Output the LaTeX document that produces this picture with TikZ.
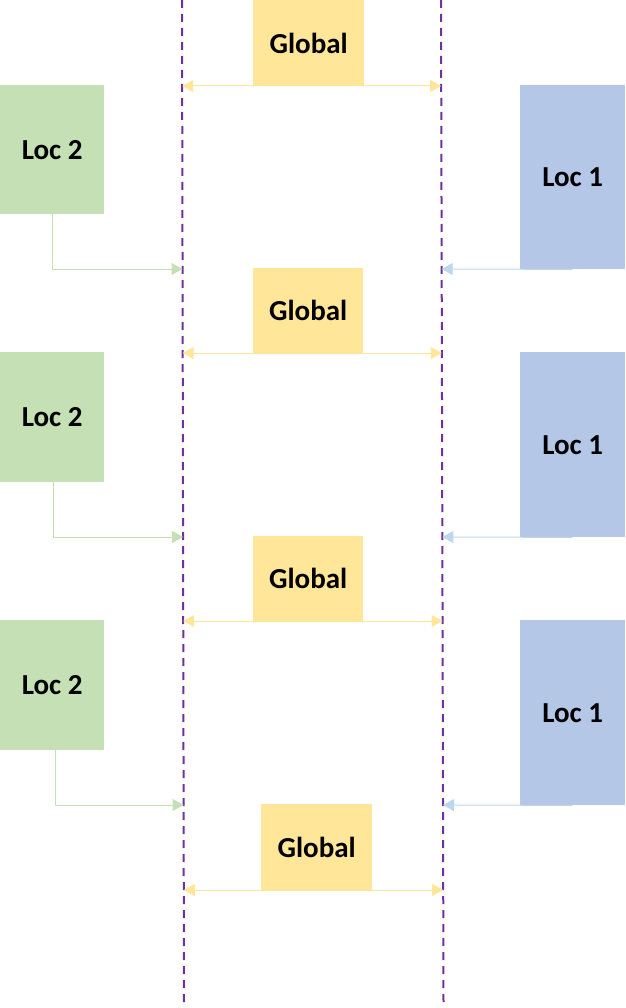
\documentclass[tikz,border=0pt]{standalone}
\usepackage{fontspec}
\setmainfont{Carlito}
\usetikzlibrary{arrows.meta}
\definecolor{gy}{HTML}{FFE699}
\definecolor{gg}{HTML}{C5E0B4}
\definecolor{gb}{HTML}{B4C7E7}
\definecolor{ab}{HTML}{BDD7EE}
\definecolor{pu}{HTML}{7030A0}
\tikzset{
  box/.style={rectangle, draw=none, inner sep=0pt, anchor=north west, font=\fontsize{29}{34}\selectfont\bfseries},
  glob/.style={box, fill=gy},
  loctwo/.style={box, fill=gg},
  locone/.style={box, fill=gb},
  garrow/.style={draw=gy, line width=1pt, {Triangle[length=11pt,width=12pt]}-{Triangle[length=11pt,width=12pt]}},
  greenarrow/.style={draw=gg, line width=1pt, -{Triangle[length=11pt,width=12pt]}},
  bluearrow/.style={draw=ab, line width=1pt, -{Triangle[length=11pt,width=12pt]}},
  lane/.style={draw=pu, line width=2pt, dash pattern=on 8pt off 6pt}
}
\begin{document}
\begin{tikzpicture}[x=1pt,y=-1pt]
\useasboundingbox (0,0) rectangle (625,1008);
% lane lines
\coordinate (LT) at (182,0); \coordinate (LB) at (184,1003);
\coordinate (RT) at (441,0); \coordinate (RB) at (443.5,1003);
% boxes
\node[glob, minimum width=111pt, minimum height=86pt] (g1) at (253,0) {Global};
\node[glob, minimum width=110pt, minimum height=85pt] (g2) at (253,268) {Global};
\node[glob, minimum width=110pt, minimum height=85pt] (g3) at (253,536) {Global};
\node[glob, minimum width=111pt, minimum height=86pt] (g4) at (261,804) {Global};
\node[loctwo, minimum width=104pt, minimum height=129pt] (a1) at (0,85) {Loc 2};
\node[loctwo, minimum width=104pt, minimum height=130pt] (a2) at (0,352) {Loc 2};
\node[loctwo, minimum width=104pt, minimum height=130pt] (a3) at (0,620) {Loc 2};
\node[locone, minimum width=105pt, minimum height=184pt] (b1) at (520,85) {Loc 1};
\node[locone, minimum width=105pt, minimum height=185pt] (b2) at (520,352) {Loc 1};
\node[locone, minimum width=105pt, minimum height=185pt] (b3) at (520,620) {Loc 1};
% lane coordinates
\coordinate (gl1) at (182.2,86);  \coordinate (gr1) at (441.2,86);
\coordinate (gl2) at (182.7,353); \coordinate (gr2) at (441.9,353);
\coordinate (gl3) at (183.2,621); \coordinate (gr3) at (442.5,621);
\coordinate (gl4) at (183.8,890); \coordinate (gr4) at (443.2,890);
\coordinate (cl1) at (182.5,269); \coordinate (cr1) at (441.7,269);
\coordinate (cl2) at (183.1,537); \coordinate (cr2) at (442.3,537);
\coordinate (cl3) at (183.6,805); \coordinate (cr3) at (443,805);
\coordinate (s1) at (52,214); \coordinate (s2) at (53,482); \coordinate (s3) at (55,750);
% dashed lanes
\draw[lane] (LT) -- (LB);
\draw[lane] (RT) -- (RB);
% global arrows
\draw[garrow] (gl1) -- (gr1);
\draw[garrow] (gl2) -- (gr2);
\draw[garrow] (gl3) -- (gr3);
\draw[garrow] (gl4) -- (gr4);
% loc2 connectors
\draw[greenarrow] (s1) |- (cl1);
\draw[greenarrow] (s2) |- (cl2);
\draw[greenarrow] (s3) |- (cl3);
% loc1 connectors
\draw[bluearrow] (b1.south) -- (cr1);
\draw[bluearrow] (b2.south) -- (cr2);
\draw[bluearrow] (b3.south) -- (cr3);
\end{tikzpicture}
\end{document}
